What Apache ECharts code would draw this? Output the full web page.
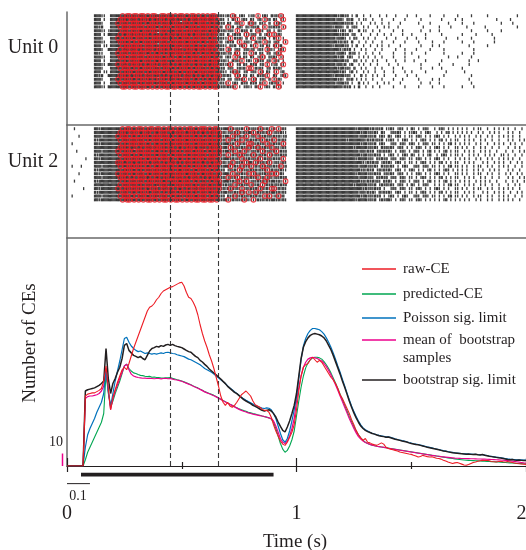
<!DOCTYPE html>
<html><head><meta charset="utf-8">
<script src="https://cdn.jsdelivr.net/npm/echarts@6/dist/echarts.min.js"></script>
<style>html,body{margin:0;padding:0;background:#fff}#c{width:526px;height:550px}</style>
</head><body><div id="c"></div>
<script>
// ---------- CE curves (value every 0.01 s, t = 0 .. 2 s) ----------
const timeStep = 0.01;
const rawCE = [
0,0,0,0,0,0,0,0,56,57.5,
58,58.5,58.5,59.5,60.5,62,68,80,62,45,
55,61,67,72,77,79,77,82,88,94,
99,104,109,114,119,124,127,128,130,133,
135,138,140,141,142,143,143.5,144.5,145.5,146.5,
147,144,139,135,134,131,127,121,113,106,
100,95,89,84,78,71,64,56,51,48.5,
51,48,47,48.5,51,54,57,58.5,60,58,
56,52,49,48,47,45.5,44.5,44.5,43,39,
33,28,24,20,17.5,16.5,19,23,27,33,
45,60,72,79,81,82,85,87,85,83,
84.5,83,80,77,74,71,69,66,62,57,
54,50,46,42,37,33,28.5,25,22.5,20.5,
22,19,18.5,17.5,17,16.5,17.5,18.5,17.5,15,
14,13.5,13,12.5,12,11.2,10.8,10.4,10,9.6,
9.3,8.6,8,7.2,7.6,8.5,8,7.5,7.2,7.4,
6.8,6.2,6,5.5,4.6,4,3.2,2.6,2,2.5,
2.8,2.2,1.5,0.8,0.6,1.2,2,2.8,3.2,3.8,
4.2,4.5,4.4,4.6,4.2,3.6,3.4,3.2,3.6,3.8,
3.4,3.2,3.6,3.2,2.8,2.4,2,1.8,1.6,1.4,
1.3];
const predictedCE = [
0,0,0,0,0,0,0,0,5,11,
15,19,23,27,31,35,42,74,58,47,
52,58,63,68,74,80,81.5,78,76,74.5,
74,73.2,72.5,72.3,71.8,71.5,71.7,71,71.2,70.8,
70.7,70.4,70.3,70.6,70.5,70.7,70.1,69.6,69,68.5,
68,67.3,66.5,65.8,65,64.1,63.2,62.5,61.5,60.6,
59.5,58.8,58,57.3,56.5,55.6,54.5,53.5,52.5,51.5,
50.5,49.5,48.6,47.5,46.6,45.7,45,44.3,43.8,43,
42.5,42,41.6,41,40.6,40,39.5,39.1,38.5,37.5,
35,30,24,18,13.5,11,12.5,16,21,28,
40,52,63,72,78.5,82.5,85,86.5,87,87,
86.5,85.5,83.5,81,78,74.5,70.5,66.5,62,57.5,
53,48.5,44,39.5,35.5,31.5,28,25,22.5,20.5,
19,18,17.3,16.7,16.2,15.8,15.5,15.2,14.9,14.6,
14.3,14,13.7,13.4,13.1,12.8,12.5,12.2,11.9,11.6,
11.3,11,10.7,10.4,10.1,9.8,9.5,9.2,8.9,8.6,
8.3,8,7.7,7.4,7.1,6.8,6.5,6.2,6,5.7,
5.4,5.2,5,4.8,4.6,4.5,4.4,4.3,4.2,4.1,
4,3.9,3.8,3.7,3.6,3.5,3.4,3.3,3.2,3,
2.9,2.8,2.6,2.5,2.4,2.2,2.1,2,1.9,1.8,
1.8];
const poissonLimit = [
0,0,0,0,0,0,0,0,15,25,
30,34,38,43,47,51,58,78,60,48,
58,68,76,84,93,102,103,99,96,94,
92.5,91.5,92,91,90,90.5,90,89.5,90,89.5,
90,90.5,90,90.8,91,90.5,90,89.8,89,88.5,
88,87.5,86.5,85.5,85,84,83,82,81,79.5,
78,77,76,75,73.5,72,70.5,69,67.5,66,
64,62.5,61,59.5,58,56.5,55,53.7,52.5,51.5,
50.5,49.5,48.5,47.7,47,46.3,46,46.5,46.2,45,
42,38,32,26,21,19,22,28,36,45,
55,70,85,96,102,106,108.5,110,110,109.5,
109,107.5,105.5,102.5,99,95,90.5,85.5,80,75,
69.5,64,58.5,53,48,43.5,39.5,36,33,30.5,
29,28,27,26.2,25.6,25,24.5,24.1,23.8,23.3,
23.4,22.9,22.3,21.7,21.2,20.8,20.3,19.9,19.4,18.8,
18.3,17.8,17.5,17.2,16.8,16.3,15.8,15.3,14.9,14.5,
14,13.6,13.2,12.7,12.3,12,11.6,11.2,10.9,10.6,
10.4,10.2,10,9.8,9.7,9.6,9.5,9.4,9.3,9.2,
9,9,8.8,8.4,8,7.7,7.4,7.1,6.9,6.6,
6.3,6,5.7,5.5,5.4,5.2,5,5,4.9,4.8,
4.8];
const bootstrapMean = [
0,0,0,0,0,0,0,0,54,55.5,
56,56,56.5,57,58,60,64,78,60,45,
54,60,65,70,75,80,81.5,77,73.5,72,
71.3,70.8,70.5,70.2,70.3,70,70.2,70,69.8,70,
70,69.7,70,70.2,69.8,70,69.5,69,68.8,68.3,
67.8,67,66.3,65.5,64.8,63.8,63,62.2,61.3,60.3,
59.3,58.5,57.8,57,56.2,55.3,54.3,53.3,52.2,51.2,
50.2,49.3,48.3,47.3,46.3,45.3,44.5,43.8,43.2,42.5,
42,41.5,41.1,40.7,40.3,40,39.6,39,38.5,38,
36,32,27,22,19,18,20,24,30,38,
52,63,72,79,83,85.5,86.5,87,86.5,86,
85,84,82,79.5,76.5,73,69,65,60.5,56,
51.5,47,42.5,38,34,30,26.5,23.5,21.5,20,
18.8,18,17.3,16.7,16.2,15.8,15.5,15.2,14.9,14.6,
14.2,13.9,13.6,13.3,13,12.7,12.4,12.1,11.8,11.5,
11.2,10.9,10.6,10.3,10,9.7,9.4,9.1,8.8,8.5,
8.3,8,7.8,7.5,7.3,7.1,6.9,6.7,6.5,6.3,
6.2,6.1,6,6,5.9,5.9,5.8,5.8,5.7,5.6,
5.6,5.5,5.5,5.4,5.3,5.2,5.1,5,4.9,4.8,
4.6,4.5,4.3,4.1,3.9,3.7,3.4,3.1,2.8,2.5,
2.4];
const bootstrapLimit = [
0,0,0,0,0,0,0,0,60,61,
61.5,62,62.5,63.5,64.5,66,68,94,70,58,
66,70,75,79,86,96.5,98,92.5,90.5,88.5,
87.7,86.7,87.7,86,85,88.5,92,94,94.7,95.7,
95.2,96.3,95.7,96.8,97.3,96.5,97.3,96.3,95.7,95.2,
94.7,93.6,92.5,91.5,91,89.3,87.7,86.7,84.5,83.2,
81.3,79.7,77.6,76,74.4,73,71.2,69.6,67.7,65.9,
63.7,62.1,60.5,58.9,57.9,56.3,54.7,53.1,52,50.9,
49.9,48.5,47.7,46.7,45.6,44.5,44,44.5,45,44,
41.9,39.2,35.2,31.7,28.5,27.2,31.2,36,42,48.5,
58,72,86,95,99.5,102.5,104.5,105.5,106,105.5,
105,104,102.5,100,96.5,93,88.5,83.5,78.5,73.5,
68,63,57.5,52,47,42.5,38.5,35,32,30,
28.5,27.5,26.8,26,25.5,24.8,24.2,23.8,23.5,23,
23.2,22.6,22,21.4,21,20.5,20,19.6,19.2,18.5,
18,17.6,17.2,17,16.5,16,15.5,15,14.6,14.2,
13.8,13.4,13,12.5,12,11.8,11.3,11,10.6,10.4,
10.2,10,9.8,9.6,9.4,9.6,9.3,9.2,9.4,9,
8.8,9.2,8.6,8.2,7.8,7.5,7.2,6.9,6.6,6.4,
6,5.6,5.2,5,5.2,4.8,4.6,4.8,4.5,4.4,
4.4];

// ---------- annotation values ----------
const dashedTimes = [0.452, 0.662];     // s
const stimulusBar = [0.061, 0.9];       // s
const timeScaleBar = [0, 0.1];          // s  (0.1 s scale bar)
const countScaleBar = [0, 10];          // CEs (10 CE scale bar)

// ---------- spike rasters: 20 trials per unit ----------
// each '/' chunk = 0.1 s, each char = 0.01 s bin
// ' ' none, '|' one spike, '#' two spikes, 'o' spike + CE circle, 'O' two spikes + CE circle
const unit0Rows = [
"          /  ###||  #/####O#OO#O/O#OO#O#OO#/#OO#OO#O#O/O#O#OO#O#O/#O#OO#|#||/#|o# |#| |/|# o |#| #/|#|o|     /##########/########|#/#|# | #  |/  |   |  |/   |    | /  |     | /    |     /|     |   /   |      /      |   ",
"          /  ### |  #/###OO#O#OO/#O#OO#O#O#/OO#O#OO#O#/#O#O#OO#OO/O#OO#O|#| /| #|o |#| /#| |# o|# /#| |o     /##########/#######|##/| #|#  | |/|  |   |  /  |    |  /    |     /   |     |/  |       /       |  /   |      ",
"          /  ###|   #/##O#OO#O#O/OO#O#O#OO#/O#OO#O#OO#/#OO#O#O#OO/#O#O#O#|# /#| |#|o  #/o#| #|| # /|o#|      /##########/##########/#|#|# | | /  | |  |  /|    |   /   |    | /      |   /  |    |  /         |/    |     ",
"          /  ##|#   #/###O#OO#OO/#OO#O#OO#O/#O#OO#O#OO/O#O#OO#O#O/OO#O#O|# |/o|# |#| #|/|#|# |o #|/#|# o|    /##########/######|###/| # |#|  |/ |   |  | /|   |    /     |    /  |    |  /    |     /  |       /      |   ",
"          /  ###|| |#/####OO#O#O/O#O#OO#OO#/#OO#O#O#OO/#O#OO#OO#O/O#O#OO#|#|/|#| o #|# /# |o#| |# /| #|      /##########/########||/#| #|  # |/|  |  |   /  |   |   /    |   |  /  |       /      |   /   |     |",
"          /  ### | ##/###O#O#OO#/OO#OO#O#O#/#O#O#OO#O#/OO#O#O#OO#/#O#OO#|#| /# |#|# |o|/|#| # |#o /o|#|      /##########/#########|/#|# |#  | /  |  |  | / |    |   /|     |   /   |      /  |     | /     |    ",
"          /  ###|   #/##O#O#OO#O/#OO#O#O#OO/O#OO#O#O#O/#OO#O#OO#O/O#O#O#|#||/|o #|#| # /#o |#|# | /#|o |     /##########/#######|##/#| | #|  |/ |  |    |/   |    | /  |   |   /     |    /|     |   /      |   ",
"          /  ###||  #/###OO#O#O#/O#O#OO#OO#/#OO#O#OO#O/O#O#OO#O#O/#O#OO#|# |/#|# |o |#|/| #|# o|# /|#| |o    /##########/########|#/|#| #  |  /|  |   |  /  |    |  /   |     |/    |     /  |    |  /      |   ",
"          /  ### || #/####O#OO#O/OO#O#OO#O#/#O#OO#O#OO/#OO#O#O#O#/O#OO#O|#||/ #|# |#o| /#|o |# #| /#o|#      /##########/######|###/#|# | #  |/  |  | |  /|    |    /    |    |/  |       /     |    /   |      ",
"          /  ###|  ##/###O#OO#OO/#O#O#OO#O#/OO#O#O#OO#/#O#OO#O#OO/#OO#O#|#| /o# |#| |#|/|# |#| o#|/| |#o     /##########/#########|/|#|# |  | /|   |  |  /   |   |  /  |     | /    |     /       |  ",
"          /  ##||   #/##O#OO#O#O/O#OO#O#O#O/#O#O#OO#OO/O#OO#O#O#O/#O#O#O#|#|/|# #o| #| /o|# #| |# /|#o|      /##########/#######|##/#| #|# |  /|  |  |   /  |    |  /|     |   /    |     /  |    |  ",
"          /  ###||  #/###OO#O#OO/#OO#O#OO#O/O#O#OO#O#O/#O#O#OO#O#/OO#O#O|# |/#| o|# #| /#| |#o| #|/#| o|     /##########/########|#/# |#|  | |/ |  |  |  /  |    | /   |      /      |   /|     |   ",
"          /  ### |  #/####O#O#OO/O#O#OO#O#O/#OO#O#O#OO/#O#OO#O#OO/O#O#OO#|#|/| #|#|o |#/| o#|# |# /o#| |     /##########/##########/#|#  #| | /|  | |   |/   |   |  / |    |   /   |      /     |   | ",
"          /  ###|| ##/##O#OO#O#O/OO#O#O#OO#/O#OO#O#O#O/#OO#O#O#O#/O#O#OO|#||/#o| |# #| /#|# |# o |/|# |o     /##########/#######|##/|# |#  | |/  |  |    /|   |    /    |     /  |     | /     |    ",
"          /  ###|   #/###O#OO#O#/O#O#OO#OO#/#O#OO#O#O#/OO#O#O#OO#/#O#O#O#|# /|#| |#|# o/o #|#| |# /#|#|      /##########/########|#/#|#| #  | /|   |  |  /  |   |   /    |    |/   |      /  |       ",
"          /  ### || #/####O#OO#O/#OO#O#O#OO/O#O#OO#O#O/#O#OO#O#OO/O#OO#O|#||/ |#o#| |# /|#| o# #| /|o |#     /##########/#########|/#| |# |  |/ |  |   | /  |    |  /|     |   /     |    /   |      ",
"          /  ##|#  ##/###OO#O#O#/OO#O#OO#O#/#O#O#O#OO#/O#OO#O#O#O/#O#O#OO|#|/#| |o# #| /#| #|#|o  /#| |#o    /##########/######|###/#|#| |  # /|  | |  |  /   |    | /  |      /    |     /      |   ",
"          /  ###|   #/##O#O#OO#O/#O#OO#O#O#/OO#O#OO#O#/#OO#O#O#O#/O#O#OO#|# /|# |#|#o |/|o# |#| # /o|#|      /##########/########|#/| #|# | | /|  |   |  /  |   |   /   |     |/  |       /     |    ",
"          /  ### |  #/###O#OO#OO/#O#O#OO#O#/#OO#O#O#OO/O#O#OO#O#O/#OO#O#|#||/o |#| #|# /#|# #|o |#/|#o |     /##########/#######|##/#|# |  # |/ |   |  | /|    |    /    |   |  /  |       /      |   ",
"          /  ###|| ##/####OO#O#O/O#OO#O#O#O/#O#OO#OO#O/#O#O#O#OO#/O#O#OO#|#|/#|#o | |#|/| #|o |#| /#|o|      /##########/##########/|#|# | #  /|  |  |   /  |    |  /   |     |/    |     /  |    |  "
];
const unit2Rows = [
"   |      /  ##|#####/####O#OO#O/#OO#O#OO#O/O#O#OO#O#O/#O#OO#O#OO/O#O#OO#|##/#o#|#|#|o#/|#|#o#|#|o/#|o|#|    /##########/##########/######|###/##|#|#|# |/|#| |#| | /#| | |#|  /| |#| | | /| | |  | | /|  |  | |  /| |  |  | ",
"          /  ########/###OO#O#OO/O#O#OO#O#O/#OO#O#O#OO/O#O#OO#O#O/#O#OO#O|#|/|#|#o#|#|#/#o|#|#|#o|/|#|#||    /##########/##########/########|#/#|#|#| #|/ |#|#| | |/|#| | |#| / | | |# | /| | | |  |/ |  | | | /  | |  |  ",
"     |    /  ###|####/##O#OO#O#O/#O#OO#O#OO/O#OO#O#O#O/#OO#O#O#O#/O#O#O#O#|#/#|o#|#|#o|/|#|o#|#|#|/#|#||#    /##########/##########/#######|##/#|#|# |#|/#| |#| | |/| |#| | | /|#| | |  |/ | | |  | /|  | |  | /| | |  |  ",
"          /  #|######/###O#OO#OO/#OO#O#O#OO/#O#OO#O#OO/O#O#OO#OO#/#OO#O#O|#|/o#|#|#o|#|/#|#|#o|#|#/o|#|#|    /##########/##########/##|#######/|#|#|#|# |/|#| | |#| /| | |#| | /| |# | | |/|  | | |  /| |  |  | /  | |  | |",
"  |       /  ##|#####/####O#O#OO/O#OO#O#O#O/#O#O#OO#OO/#OO#O#O#OO/O#O#OO#|##/#|#|o#|#|o/o#|#|#|o#|/#|#|o|    /##########/##########/########|#/#|#|# |#|/ |#| |#| |/#| | |#| |/| | | |# | / | | |  |/|  |  | | /|  | |  | ",
"          /  ########/###OO#O#O#/#O#O#OO#OO/OO#O#O#O#O/#O#OO#O#O#/#O#OO#O|##/|o#|#|#|#o/#|#o#|#|#o/|#||#|    /##########/##########/#####|####/#|#|#| #|#/|#| |#| | /| |#| | | /|#| | |  |/| | |  |  /| |  |  | /  |  | | ",
"    |     /  ###|####/##O#O#OO#O/#OO#OO#O#O/#O#O#OO#O#/O#OO#O#OO#/O#O#O#O#|#/#|#o|#|o#|/|#|#|o#|#|/#o|#|#    /##########/##########/#######|##/|#|# |#|#|/#| | |#| |/ |#| | |# /| | |# | |/|  | | |  /| | |  |  / |  |  | |",
"          /  #|######/###O#OO#O#/O#O#OO#O#O/#OO#O#O#OO/#O#O#OO#OO/#O#OO#O|#|/o|#|#o#|#|/#o#|#|#|o#/|#|#|#    /##########/##########/########|#/#|#|#|# |/|#| | |#| /#| | | |# / | |#| | |/| |  | | |/  | | |  | /| |  |  | ",
"        | /  ##|#####/####O#OO#O/OO#O#O#OO#/O#OO#O#O#O/#O#O#O#OO#/O#OO#O#|##/#|#|#|o#|#/|#|#o|#|#|/#|#|o     /##########/##########/######|###/#|#| #|#|#/ |#| |#| |/| |#| | | /|#| | |  |/ | | |  | /|  | |  | /| | |  |  ",
"          /  ########/##OO#O#O#O/#O#OO#O#OO/#O#O#OO#O#/O#OO#O#O#O/#O#O#OO|#|/|#o|#|#|o#/#|o#|#|#o|/|#||#|    /##########/##########/#########|/|#|#|# |#|/#| |#| | |/| | |#| | /| |# | | |/|  | | |  / | |  | | /|  |  | | ",
"  |   |   /  ###|####/###O#O#OO#/OO#O#O#O#O/#OO#OO#O#O/#O#O#O#OO#/O#O#OO#|##/#o|#|#o#|#/o|#|#o#|#|/#|#o|#    /##########/##########/#######|##/#|#|#| #|#/|#| | |#| / |#| |#| |/| | | |# | /| | |  | |/|  | |  | /| |  |  | ",
"          /  #|######/####O#OO#O/#O#O#OO#OO/O#OO#O#O#O/#OO#O#O#OO/#O#O#O#|# /|#|#|o#|#|/#|#|#|#o|#/|#|#||    /##########/##########/########|#/|#|# |#|#|/#| |#| | |/#| | | |# /| | |#| | /| | |  | |/ |  | | | /  | |  |  ",
"     |    /  ##|#####/##O#OO#O#O/#OO#O#O#OO/#O#O#OO#OO/O#O#OO#O#O/#OO#O#O|##/#|o|#|#|#o/|o#|#|#|#o/#o|#|     /##########/##########/######|###/#|#|#|# |#/|#| |#| | /| |#| | | /|#| | |  |/| | |  | | /|  | |  | / | |  | | ",
"          /  ###|####/###OO#O#O#/O#OO#O#O#O/#O#OO#O#OO/#O#O#OO#O#/O#O#OO#|#|/o#|#o|#|#|/#|#o|#|o#|/|#|#|#    /##########/##########/#######|##/#|#| #|#|#/ |#| |#| |/| | |#| | /| |# | | |/|  | | |  /| |  |  | /  | |  | |",
"   |      /  #|######/####O#O#OO/#OO#O#OO#O/O#O#O#OO#O/#OO#O#O#O#/#O#O#OO|##/#|#|#o|#o|/|#|#|#o#|#/#|#||o    /##########/##########/########|#/|#|#|#| #|/#| | |#| |/ |#| | |# /| | |# | |/ | | |  | /| | |  |  / |  | |  |",
"          /  ########/###O#OO#OO/#O#O#OO#O#/#OO#O#O#OO/O#OO#O#O#O/O#O#O#O#|#/|#|o#|#|#|/o#|#|o|#|#/|#|#|#    /##########/##########/#####|####/#|#|# |#|#/|#| |#| | /#| | |#|  /| | | |# | /|  | | |  /| |  |  | /  |  | | ",
"       |  /  ##|#####/##O#O#OO#O/OO#O#O#OO#/O#OO#O#O#O/#O#O#OO#OO/#OO#O#O|#|/#o#|#|o|#|/#|#|o#|#|o/o|#|#|    /##########/##########/#########|/#|#|#|# |/ |#| |#| |/| |#| | | /|#| | |  |/| | |  | | /|  | |  | /| | |  |  ",
"          /  #|######/####OO#O#O/#O#OO#O#OO/#O#O#OO#O#/OO#O#O#O#O/O#O#OO#|##/|#|#|#o#|o/|#o#|#|#|#/#|#|#|    /##########/##########/#######|##/|#|#| #|#|/#| |#| | |/| | |#| | /| |# | | |/|  | | |  / | |  | | /|  |  | | ",
"  |       /  ###|####/###O#OO#O#/O#OO#O#OO#/#OO#O#O#O#/#O#OO#O#OO/#O#O#O#|# /#|#o#|#|#|/#|#|#|o#o|/|#o|#     /##########/##########/########|#/#|#|#|# |/|#| | |#| / |#| |#| |/| | | |# | /| | |  | |/|  | |  | /| |  |  | ",
"          /  ##|#####/####O#OO#O/#O#O#OO#O#/O#OO#O#OO#/O#O#O#OO#O/O#OO#O#|##/o|#|#|#o#|/|o|#|#|#|#/#|#|#|    /##########/##########/######|###/#|#|# |#|#/#| | |#| |/| |#| | | /| | |# | |/ | | |  | /|  | |  | /| | |  |  "
];

// decode raster strings into spike / CE-circle points
function decodeRaster(rows) {
  const spikes = [], circles = [];
  rows.forEach((row, r) => {
    row.split('/').forEach((chunk, k) => {
      for (let j = 0; j < chunk.length; j++) {
        const c = chunk[j];
        const t = 0.1 * k + 0.01 * j;
        if (c === '|' || c === 'o') spikes.push([t + 0.0025, r]);
        if (c === '#' || c === 'O') { spikes.push([t, r]); spikes.push([t + 0.005, r]); }
        if (c === 'o' || c === 'O') circles.push([t + 0.0025, r]);
      }
    });
  });
  return { spikes, circles };
}
const u0 = decodeRaster(unit0Rows);
const u2 = decodeRaster(unit2Rows);
const timeAxis = rawCE.map((_, i) => +(i * timeStep).toFixed(2));
const pairs = arr => arr.map((v, i) => [timeAxis[i], v]);

const FONT = '"Liberation Serif", "Times New Roman", serif';
const INK = '#231f20';
const SEP = '#6a6a6a';
const GRID_LEFT = 67, GRID_W = 459;

const dashLine = {
  silent: true, symbol: 'none', label: { show: false },
  lineStyle: { type: [5, 3], color: '#3a3a3a', width: 1.1 },
  data: dashedTimes.map(t => ({ xAxis: t }))
};

const rasterX = gi => ({
  type: 'value', gridIndex: gi, min: 0, max: 2,
  axisLine: { show: true, onZero: false, lineStyle: { color: SEP, width: 1.5 } },
  axisTick: { show: false }, axisLabel: { show: false }, splitLine: { show: false }
});
const rasterY = gi => ({
  type: 'value', gridIndex: gi, min: -1, max: 29.2, inverse: true,
  axisLine: { show: true, lineStyle: { color: SEP, width: 1.5 } },
  axisTick: { show: false }, axisLabel: { show: false }, splitLine: { show: false }
});

const lineSeries = (name, data, color, width, z) => ({
  name, type: 'line', xAxisIndex: 2, yAxisIndex: 2, data: pairs(data),
  showSymbol: false, symbol: 'none', z,
  lineStyle: { color, width }, itemStyle: { color }
});

const legendBase = (name, top, label) => ({
  data: [name], left: 362, top, orient: 'horizontal', padding: 0,
  icon: 'rect', itemWidth: 34, itemHeight: 1.5, selectedMode: false,
  formatter: label ? () => label : undefined,
  textStyle: { fontFamily: FONT, fontSize: 15, color: INK, lineHeight: 16, padding: [0, 0, 0, 2] }
});

const txt = (id, text, x, y, size, align, extra) => Object.assign({
  id, type: 'text', x, y, silent: true,
  style: { text, font: size + 'px ' + FONT, fill: INK, align: align || 'center', verticalAlign: 'middle',
           textAlign: align || 'center', textVerticalAlign: 'middle' }
}, extra || {});

const gridBox = top => ({ left: GRID_LEFT, width: GRID_W, top, outerBoundsMode: 'none', containLabel: false });

const chart = echarts.init(document.getElementById('c'), null, { renderer: 'canvas' });
chart.setOption({
  animation: false,
  backgroundColor: '#fff',
  grid: [
    Object.assign(gridBox(12), { height: 113 }),
    Object.assign(gridBox(125), { height: 113 }),
    Object.assign(gridBox(238), { height: 228 })
  ],
  xAxis: [
    rasterX(0), rasterX(1),
    { type: 'value', gridIndex: 2, min: 0, max: 2, interval: 1,
      axisLine: { show: true, onZero: false, lineStyle: { color: INK, width: 1.2 } },
      axisTick: { show: true, inside: true, length: 8, lineStyle: { color: INK, width: 1.2 } },
      minorTick: { show: true, splitNumber: 2, length: 4, lineStyle: { color: INK, width: 1.2 } },
      axisLabel: { show: true, margin: 38, fontFamily: FONT, fontSize: 20, color: INK, showMaxLabel: true, hideOverlap: false,
        formatter: v => (v === 2 ? '{edge|2}' : String(v)),
        rich: { edge: { fontFamily: FONT, fontSize: 20, color: INK, padding: [0, 9, 0, 0] } } },
      splitLine: { show: false }, minorSplitLine: { show: false } },
    { type: 'value', gridIndex: 2, min: 0, max: 2, interval: 1, position: 'bottom',
      axisLine: { show: false },
      axisTick: { show: true, inside: false, length: 6, lineStyle: { color: INK, width: 1.2 } },
      minorTick: { show: true, splitNumber: 2, length: 3, lineStyle: { color: INK, width: 1.2 } },
      axisLabel: { show: false }, splitLine: { show: false }, minorSplitLine: { show: false } }
  ],
  yAxis: [
    rasterY(0), rasterY(1),
    { type: 'value', gridIndex: 2, min: 0, max: 182.4,
      axisLine: { show: true, lineStyle: { color: SEP, width: 1.5 } },
      axisTick: { show: false }, axisLabel: { show: false }, splitLine: { show: false } }
  ],
  legend: [
    legendBase('raw-CE', 261),
    legendBase('predicted-CE', 286),
    legendBase('Poisson sig. limit', 310),
    legendBase('mean of bootstrap samples', 332, 'mean of  bootstrap'),
    legendBase('bootstrap sig. limit', 372)
  ],
  series: [
    { type: 'scatter', xAxisIndex: 0, yAxisIndex: 0, data: u0.spikes, symbol: 'rect',
      symbolSize: [1.3, 3], itemStyle: { color: '#0d0d0d' }, silent: true, markLine: dashLine },
    { type: 'scatter', xAxisIndex: 0, yAxisIndex: 0, data: u0.circles, symbol: 'circle',
      symbolSize: 4.6, itemStyle: { color: 'rgba(0,0,0,0)', borderColor: '#ec1c24', borderWidth: 1.1 }, silent: true, z: 3 },
    { type: 'scatter', xAxisIndex: 1, yAxisIndex: 1, data: u2.spikes, symbol: 'rect',
      symbolSize: [1.3, 3], itemStyle: { color: '#0d0d0d' }, silent: true, markLine: dashLine },
    { type: 'scatter', xAxisIndex: 1, yAxisIndex: 1, data: u2.circles, symbol: 'circle',
      symbolSize: 4.6, itemStyle: { color: 'rgba(0,0,0,0)', borderColor: '#ec1c24', borderWidth: 1.1 }, silent: true, z: 3 },
    Object.assign(lineSeries('predicted-CE', predictedCE, '#00a651', 1.1, 2), { markLine: dashLine }),
    lineSeries('mean of bootstrap samples', bootstrapMean, '#ec008c', 1.2, 3),
    lineSeries('Poisson sig. limit', poissonLimit, '#0072bc', 1.2, 4),
    lineSeries('bootstrap sig. limit', bootstrapLimit, INK, 1.5, 5),
    lineSeries('raw-CE', rawCE, '#ed1c24', 1.1, 6),
    { type: 'line', xAxisIndex: 2, yAxisIndex: 2, clip: false, showSymbol: false, symbol: 'none', silent: true,
      data: stimulusBar.map(t => [t, -6.9]), lineStyle: { color: INK, width: 3.8 } },
    { type: 'line', xAxisIndex: 2, yAxisIndex: 2, clip: false, showSymbol: false, symbol: 'none', silent: true,
      data: timeScaleBar.map(t => [t, -14.1]), lineStyle: { color: INK, width: 1 } }
  ],
  graphic: [
    txt('u0', 'Unit 0', 33, 48, 20),
    txt('u2', 'Unit 2', 33, 162, 20),
    txt('yname', 'Number of CEs', 30, 343, 19, 'center', { rotation: Math.PI / 2 }),
    txt('xname', 'Time (s)', 295, 542, 19),
    txt('sb01', '0.1', 78, 496, 14),
    txt('sb10', '10', 56, 442, 14),
    txt('samples', 'samples', 403, 358, 15, 'left')
  ]
});

// 10-CE scale bar placed through the CE axis scale
const p0 = chart.convertToPixel({ xAxisIndex: 2, yAxisIndex: 2 }, [0, countScaleBar[0]]);
const p1 = chart.convertToPixel({ xAxisIndex: 2, yAxisIndex: 2 }, [0, countScaleBar[1]]);
chart.setOption({
  graphic: [{
    id: 'bar10', type: 'line', silent: true, z: 10,
    shape: { x1: p0[0] - 4.5, y1: p0[1], x2: p1[0] - 4.5, y2: p1[1] },
    style: { stroke: '#ec008c', lineWidth: 1.5 }
  }]
});
</script>
</body></html>
